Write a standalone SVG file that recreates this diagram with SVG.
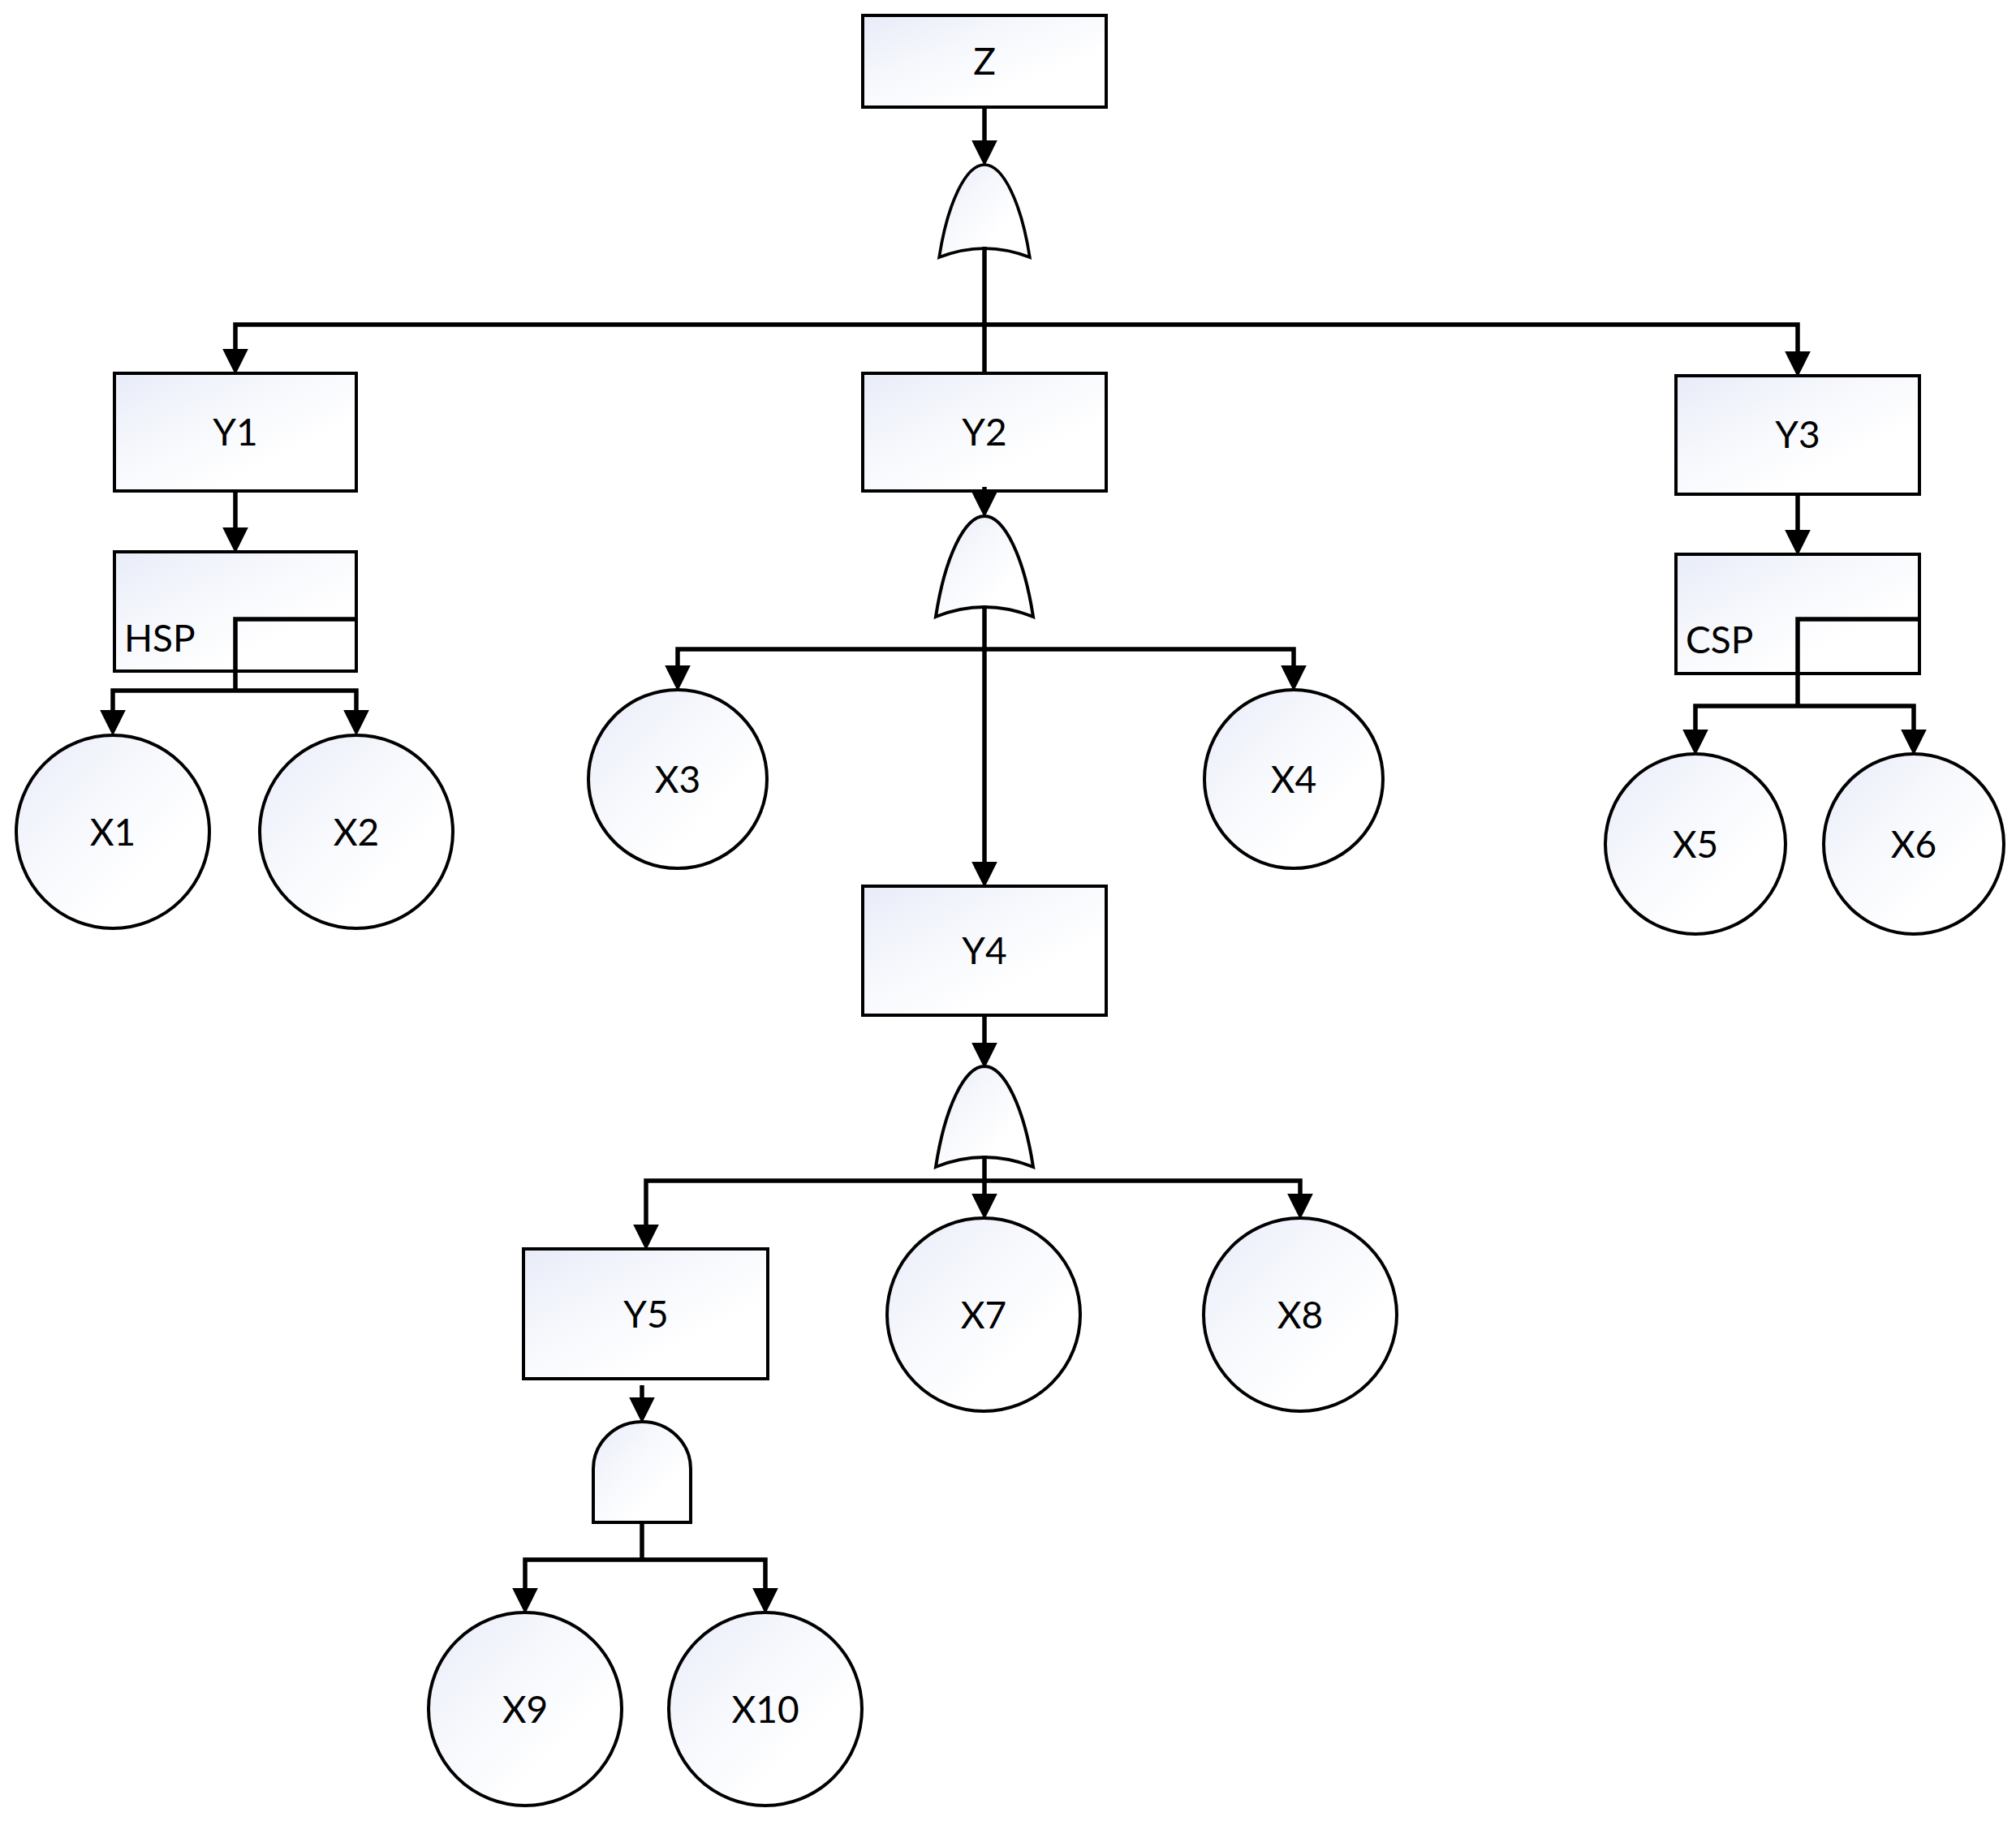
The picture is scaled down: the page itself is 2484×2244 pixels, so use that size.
<svg xmlns="http://www.w3.org/2000/svg" width="2484" height="2244" viewBox="0 0 2484 2244">
<defs>
<linearGradient id="fillg" x1="0" y1="0" x2="1" y2="1">
<stop offset="0" stop-color="#e8ecf8"/>
<stop offset="0.35" stop-color="#f5f7fc"/>
<stop offset="0.7" stop-color="#ffffff"/>
</linearGradient>
<marker id="arr" markerUnits="userSpaceOnUse" markerWidth="32" markerHeight="32" viewBox="0 0 30 30" refX="5" refY="15" orient="auto">
<path d="M0,0 L30,15 L0,30 Z" fill="#000"/>
</marker>
<path id="orgate" d="M-60,124 C-49,52 -25,0 0,0 C25,0 49,52 60,124 Q0,100 -60,124 Z"/>
<path id="andgate" d="M-60,124 L-60,58 A60,58 0 0 1 60,58 L60,124 Z"/>
</defs>
<style>
.box{fill:url(#fillg);stroke:#000;stroke-width:4}
.gate{fill:url(#fillg);stroke:#000;stroke-width:4;stroke-linejoin:miter}
.ev{fill:url(#fillg);stroke:#000;stroke-width:4}
.lbl{font-family:Lato,"Liberation Sans",sans-serif;font-size:46px;fill:#000;text-anchor:middle}
.lbls{font-family:Lato,"Liberation Sans",sans-serif;font-size:46px;fill:#000}
.c{fill:none;stroke:#000;stroke-width:5.5}
.a{fill:none;stroke:#000;stroke-width:5.5;marker-end:url(#arr)}
</style>
<rect width="2484" height="2244" fill="#fff"/>

<g id="Z"><rect class="box" x="1063" y="19" width="300" height="113"/><text class="lbl" x="1213" y="92">Z</text></g>
<g id="G1"><use href="#orgate" class="gate" transform="translate(1213,203) scale(0.93,0.92)"/></g>

<g id="Y1"><rect class="box" x="141" y="460" width="298" height="145"/><text class="lbl" x="290" y="549">Y1</text></g>
<g id="Y2"><rect class="box" x="1063" y="460" width="300" height="145"/><text class="lbl" x="1213" y="549">Y2</text></g>
<g id="Y3"><rect class="box" x="2065" y="463" width="300" height="146"/><text class="lbl" x="2215" y="552">Y3</text></g>

<g id="HSP"><rect class="box" x="141" y="680" width="298" height="147"/><text class="lbls" x="153" y="803">HSP</text></g>
<g id="CSP"><rect class="box" x="2065" y="683" width="300" height="147"/><text class="lbls" x="2077" y="805">CSP</text></g>

<g id="G2"><use href="#orgate" class="gate" transform="translate(1213,636)"/></g>

<g id="X1"><circle class="ev" cx="139" cy="1025" r="119"/><text class="lbl" x="139" y="1042">X1</text></g>
<g id="X2"><circle class="ev" cx="439" cy="1025" r="119"/><text class="lbl" x="439" y="1042">X2</text></g>
<g id="X3"><circle class="ev" cx="835" cy="960" r="110"/><text class="lbl" x="835" y="977">X3</text></g>
<g id="X4"><circle class="ev" cx="1594" cy="960" r="110"/><text class="lbl" x="1594" y="977">X4</text></g>
<g id="X5"><circle class="ev" cx="2089" cy="1040" r="111"/><text class="lbl" x="2089" y="1057">X5</text></g>
<g id="X6"><circle class="ev" cx="2358" cy="1040" r="111"/><text class="lbl" x="2358" y="1057">X6</text></g>

<g id="Y4"><rect class="box" x="1063" y="1092" width="300" height="159"/><text class="lbl" x="1213" y="1188">Y4</text></g>
<g id="G3"><use href="#orgate" class="gate" transform="translate(1213,1314)"/></g>

<g id="Y5"><rect class="box" x="645" y="1539" width="301" height="160"/><text class="lbl" x="796" y="1636">Y5</text></g>
<g id="X7"><circle class="ev" cx="1212" cy="1620" r="119"/><text class="lbl" x="1212" y="1637">X7</text></g>
<g id="X8"><circle class="ev" cx="1602" cy="1620" r="119"/><text class="lbl" x="1602" y="1637">X8</text></g>

<g id="G4"><use href="#andgate" class="gate" transform="translate(791,1752)"/></g>

<g id="X9"><circle class="ev" cx="647" cy="2106" r="119"/><text class="lbl" x="647" y="2123">X9</text></g>
<g id="X10"><circle class="ev" cx="943" cy="2106" r="119"/><text class="lbl" x="943" y="2123">X10</text></g>

<g id="connectors">
<path class="a" d="M1213,132 L1213,178"/>
<path class="c" d="M1213,304 L1213,460"/>
<path class="a" d="M1213,400 L290,400 L290,435"/>
<path class="a" d="M1213,400 L2215,400 L2215,438"/>
<path class="a" d="M290,605 L290,655"/>
<path class="c" d="M441,763 L290,763 L290,851"/>
<path class="a" d="M290,851 L139,851 L139,880"/>
<path class="a" d="M290,851 L439,851 L439,880"/>
<path class="a" d="M2215,609 L2215,658"/>
<path class="c" d="M2365,763 L2215,763 L2215,870"/>
<path class="a" d="M2215,870 L2089,870 L2089,904"/>
<path class="a" d="M2215,870 L2358,870 L2358,904"/>
<path class="a" d="M1213,600 L1213,611"/>
<path class="a" d="M1213,746 L1213,1067"/>
<path class="a" d="M1213,800 L835,800 L835,825"/>
<path class="a" d="M1213,800 L1594,800 L1594,825"/>
<path class="a" d="M1213,1251 L1213,1290"/>
<path class="a" d="M1213,1424 L1213,1476"/>
<path class="a" d="M1213,1455 L796,1455 L796,1514"/>
<path class="a" d="M1213,1455 L1602,1455 L1602,1476"/>
<path class="a" d="M791,1707 L791,1727"/>
<path class="c" d="M791,1876 L791,1922"/>
<path class="a" d="M791,1922 L647,1922 L647,1962"/>
<path class="a" d="M791,1922 L943,1922 L943,1962"/>
</g>
</svg>
